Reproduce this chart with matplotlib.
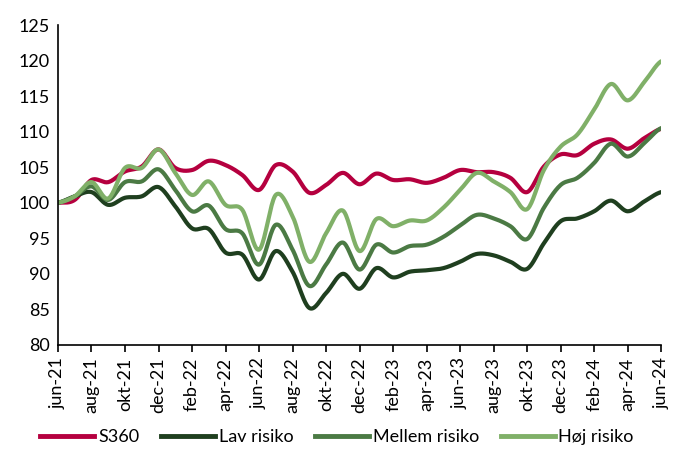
import numpy as np
import matplotlib
matplotlib.use("Agg")
import matplotlib.pyplot as plt
from matplotlib.lines import Line2D

plt.rcParams['font.family'] = ['Lato', 'DejaVu Sans']

months = ["jun-21", "jul-21", "aug-21", "sep-21", "okt-21", "nov-21", "dec-21",
          "jan-22", "feb-22", "mar-22", "apr-22", "maj-22", "jun-22", "jul-22",
          "aug-22", "sep-22", "okt-22", "nov-22", "dec-22", "jan-23", "feb-23",
          "mar-23", "apr-23", "maj-23", "jun-23", "jul-23", "aug-23", "sep-23",
          "okt-23", "nov-23", "dec-23", "jan-24", "feb-24", "mar-24", "apr-24",
          "maj-24", "jun-24"]

s360 = [100.0, 100.4, 103.2, 102.9, 104.4, 105.1, 107.5, 104.9, 104.6, 105.9,
        105.3, 103.9, 101.8, 105.3, 104.4, 101.4, 102.5, 104.2, 102.6, 104.1,
        103.2, 103.3, 102.8, 103.5, 104.6, 104.3, 104.3, 103.5, 101.5, 105.1,
        106.8, 106.7, 108.3, 108.9, 107.6, 109.1, 110.4]
lav = [100.0, 100.9, 101.5, 99.7, 100.7, 100.9, 102.2, 99.5, 96.4, 96.3,
       93.0, 92.7, 89.2, 93.2, 90.3, 85.2, 87.3, 90.0, 87.9, 90.8,
       89.5, 90.3, 90.5, 90.8, 91.7, 92.8, 92.6, 91.7, 90.7, 94.3,
       97.4, 97.8, 98.8, 100.3, 98.8, 100.2, 101.5]
mellem = [100.0, 100.9, 102.3, 100.4, 102.9, 103.0, 104.7, 101.8, 98.8, 99.6,
          96.3, 95.7, 91.3, 96.9, 93.4, 88.3, 91.3, 94.4, 90.6, 94.1,
          93.0, 93.9, 94.1, 95.2, 96.8, 98.3, 97.8, 96.7, 94.9, 99.3,
          102.5, 103.5, 105.6, 108.3, 106.5, 108.4, 110.5]
hoej = [100.0, 100.9, 102.9, 100.6, 104.9, 104.9, 107.5, 104.2, 101.1, 103.0,
        99.7, 99.0, 93.4, 101.1, 98.1, 91.7, 95.7, 98.9, 93.2, 97.7,
        96.7, 97.5, 97.5, 99.3, 101.8, 104.2, 103.0, 101.5, 99.1, 104.6,
        107.9, 109.6, 113.1, 116.7, 114.4, 117.0, 119.9]

series_names = ["S360", "Lav risiko", "Mellem risiko", "Høj risiko"]
series_vals = [s360, lav, mellem, hoej]
colors = ["#B5003F", "#1F3F1F", "#4B7A44", "#80B068"]

y_ticks = [80, 85, 90, 95, 100, 105, 110, 115, 120, 125]


def catmull_rom(x, y, n=20):
    x = np.asarray(x, float)
    y = np.asarray(y, float)
    px = np.concatenate([[2 * x[0] - x[1]], x, [2 * x[-1] - x[-2]]])
    py = np.concatenate([[y[0]], y, [y[-1]]])
    xs, ys = [], []
    t = np.linspace(0, 1, n, endpoint=False)
    for i in range(1, len(px) - 2):
        p0, p1, p2, p3 = py[i - 1], py[i], py[i + 1], py[i + 2]
        q0, q1, q2, q3 = px[i - 1], px[i], px[i + 1], px[i + 2]
        def cr(a0, a1, a2, a3):
            return 0.5 * ((2 * a1) + (-a0 + a2) * t
                          + (2 * a0 - 5 * a1 + 4 * a2 - a3) * t ** 2
                          + (-a0 + 3 * a1 - 3 * a2 + a3) * t ** 3)
        xs.append(cr(q0, q1, q2, q3))
        ys.append(cr(p0, p1, p2, p3))
    xs.append([x[-1]])
    ys.append([y[-1]])
    return np.concatenate(xs), np.concatenate(ys)


fig = plt.figure(figsize=(6.74, 4.63), dpi=100)
ax = fig.add_axes([0.086, 0.255, 0.895, 0.691])

xi = np.arange(len(months))
for name, vals, c in zip(series_names, series_vals, colors):
    sx, sy = catmull_rom(xi, vals)
    ax.plot(sx, sy, color=c, lw=3.0, solid_capstyle='round', label=name)

ax.set_xlim(0, len(months) - 1)
ax.set_ylim(80, 125)
ax.set_yticks(y_ticks)
ax.set_xticks(xi[::2])
ax.set_xticklabels(months[::2], rotation=90)
ax.tick_params(axis='y', length=0, labelsize=13, pad=6)
ax.tick_params(axis='x', length=5, width=1.2, labelsize=13, direction='out', pad=4)
for s in ['top', 'right']:
    ax.spines[s].set_visible(False)
for s in ['left', 'bottom']:
    ax.spines[s].set_linewidth(1.2)
    ax.spines[s].set_color('black')

handles = [Line2D([0], [0], color=c, lw=3.5) for c in colors]
fig.legend(handles, series_names, loc='center', bbox_to_anchor=(0.5, 0.056),
           ncol=4, frameon=False, fontsize=13, handlelength=3.0,
           handletextpad=0.2, columnspacing=1.2)

fig.savefig("out.png", dpi=100)
